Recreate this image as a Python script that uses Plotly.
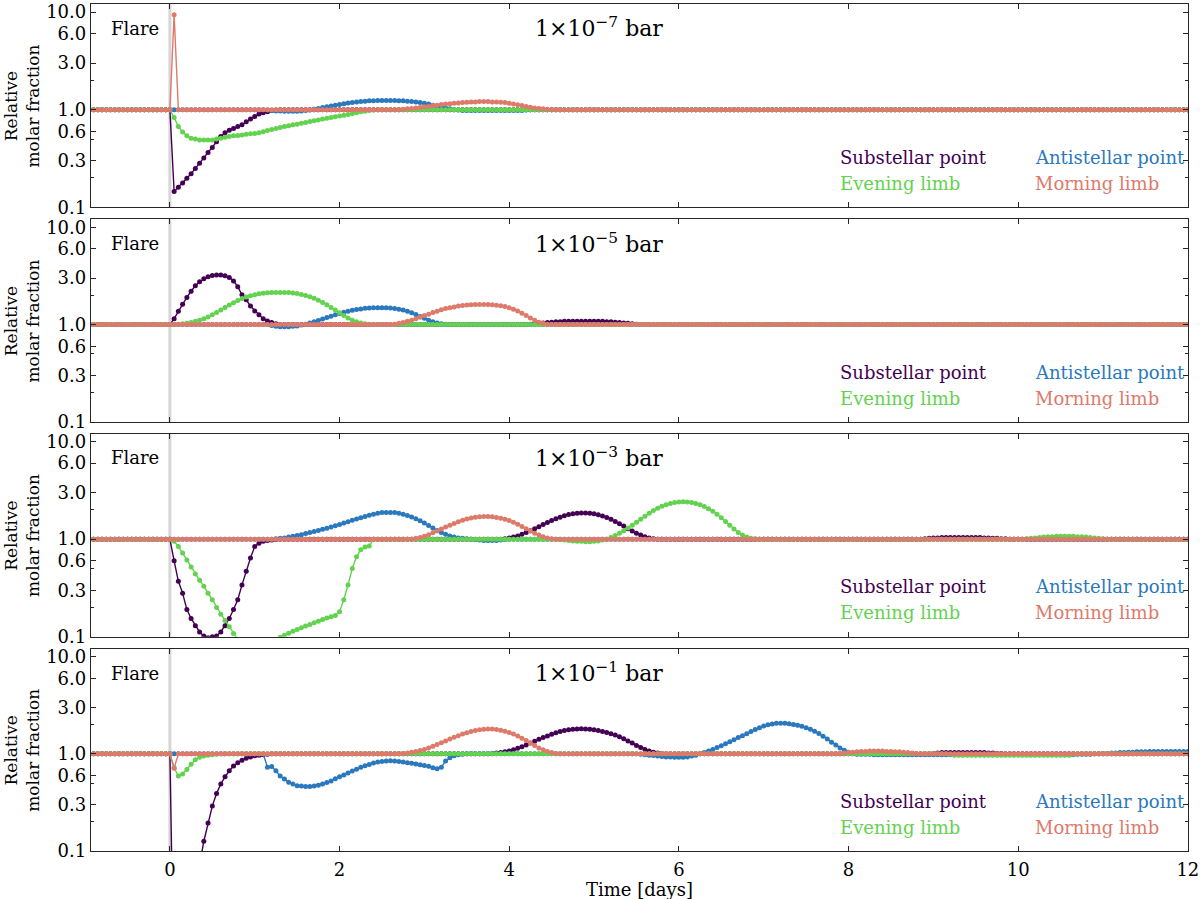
import numpy as np
import plotly.graph_objects as go
from plotly.subplots import make_subplots

# time grid of the model output, one point every 0.05 days
time = np.round(np.arange(-20, 241) * 0.05, 2)

pressures = ['1×10<sup>−7</sup> bar', '1×10<sup>−5</sup> bar',
             '1×10<sup>−3</sup> bar', '1×10<sup>−1</sup> bar']
series_names = ['Substellar point', 'Antistellar point', 'Evening limb', 'Morning limb']
series_colors = ['#440154', '#2a78bd', '#62d24f', '#dd7a6a']

# relative molar fraction, given as (start day, values every 0.05 days); 1.0 elsewhere
sub_7 = [(0.05, [0.145, 0.16, 0.177, 0.198, 0.22, 0.25, 0.283, 0.32, 0.364, 0.41, 0.468, 0.53,
                 0.58, 0.615, 0.64, 0.67, 0.70, 0.75, 0.80, 0.85, 0.90, 0.93, 0.95, 0.98, 0.99])]
anti_7 = [(1.15, [0.99, 0.98, 0.97, 0.97, 0.96, 0.96, 0.96, 0.96, 0.97, 0.98, 0.99, 1.01, 1.03, 1.05,
                  1.07, 1.09, 1.11, 1.13, 1.15, 1.17, 1.18, 1.2, 1.21, 1.22, 1.23, 1.235, 1.24, 1.24,
                  1.24, 1.24, 1.24, 1.235, 1.23, 1.22, 1.21, 1.2, 1.18, 1.16, 1.14, 1.11, 1.08, 1.06,
                  1.04, 1.02, 1.0, 0.99, 0.98, 0.98, 0.98, 0.98, 0.98, 0.98, 0.98, 0.98, 0.98, 0.98,
                  0.98, 0.98, 0.98, 0.98, 0.98, 0.99])]
eve_7 = [(0.05, [0.83, 0.67, 0.59, 0.54, 0.51, 0.50, 0.49, 0.49, 0.49, 0.49, 0.50, 0.51, 0.52, 0.53,
                 0.54, 0.545, 0.55, 0.56, 0.565, 0.57, 0.58, 0.595, 0.61, 0.625, 0.64, 0.655, 0.67,
                 0.685, 0.70, 0.71, 0.725, 0.74, 0.755, 0.77, 0.785, 0.80, 0.815, 0.83, 0.845, 0.86,
                 0.875, 0.89, 0.91, 0.93, 0.95, 0.965, 0.98, 0.99])]
morn_7 = [(0.05, [9.4]),
          (2.75, [1.01, 1.02, 1.03, 1.04, 1.05, 1.07, 1.08, 1.1, 1.11, 1.13, 1.14, 1.15, 1.16, 1.17,
                  1.18, 1.19, 1.2, 1.2, 1.21, 1.21, 1.21, 1.2, 1.2, 1.19, 1.18, 1.16, 1.14, 1.12, 1.1,
                  1.08, 1.06, 1.04, 1.03, 1.02, 1.01])]

sub_5 = [(0.05, [1.15, 1.37, 1.62, 1.9, 2.2, 2.5, 2.75, 2.95, 3.1, 3.2, 3.24, 3.24, 3.18, 3.05, 2.8,
                 2.45, 2.02, 1.8, 1.55, 1.38, 1.26, 1.15, 1.09, 1.05, 1.02]),
         (4.25, [1.01, 1.02, 1.03, 1.04, 1.05, 1.06, 1.07, 1.07, 1.08, 1.08, 1.08, 1.08, 1.08, 1.08,
                 1.08, 1.08, 1.08, 1.08, 1.07, 1.07, 1.06, 1.05, 1.04, 1.03, 1.02, 1.01])]
anti_5 = [(1.2, [0.98, 0.96, 0.95, 0.95, 0.95, 0.96, 0.97, 0.99, 1.01, 1.04, 1.07, 1.1, 1.14, 1.18,
                 1.22, 1.26, 1.3, 1.34, 1.37, 1.4, 1.43, 1.45, 1.47, 1.48, 1.49, 1.49, 1.49, 1.49,
                 1.48, 1.46, 1.44, 1.41, 1.37, 1.32, 1.27, 1.21, 1.16, 1.11, 1.07, 1.04, 1.02, 1.01])]
eve_5 = [(0.1, [1.01, 1.02, 1.03, 1.05, 1.08, 1.11, 1.15, 1.2, 1.26, 1.33, 1.41, 1.5, 1.59, 1.68,
                1.77, 1.85, 1.92, 1.98, 2.03, 2.07, 2.1, 2.12, 2.13, 2.14, 2.14, 2.14, 2.13, 2.11,
                2.08, 2.04, 1.99, 1.93, 1.86, 1.78, 1.69, 1.6, 1.5, 1.41, 1.32, 1.24, 1.17, 1.11,
                1.07, 1.04, 1.02, 1.01])]
morn_5 = [(2.65, [1.01, 1.03, 1.05, 1.08, 1.11, 1.15, 1.19, 1.24, 1.28, 1.33, 1.37, 1.42, 1.46, 1.49,
                  1.52, 1.55, 1.57, 1.59, 1.6, 1.61, 1.61, 1.61, 1.61, 1.6, 1.58, 1.56, 1.53, 1.49,
                  1.44, 1.38, 1.31, 1.24, 1.17, 1.11, 1.06, 1.03, 1.01])]

sub_3 = [(0.05, [0.60, 0.37, 0.28, 0.19, 0.154, 0.13, 0.112, 0.102, 0.098, 0.10, 0.102, 0.112, 0.13,
                 0.154, 0.19, 0.24, 0.34, 0.47, 0.64, 0.84, 0.91, 0.95, 0.97, 0.98, 0.99]),
         (3.95, [1.01, 1.03, 1.05, 1.08, 1.12, 1.17, 1.22, 1.28, 1.34, 1.41, 1.48, 1.55, 1.62, 1.68,
                 1.74, 1.79, 1.82, 1.84, 1.85, 1.85, 1.84, 1.82, 1.78, 1.73, 1.67, 1.6, 1.52, 1.44,
                 1.36, 1.28, 1.21, 1.15, 1.1, 1.06, 1.03, 1.01]),
         (8.9, [1.01, 1.02, 1.03, 1.03, 1.04, 1.04, 1.04, 1.04, 1.04, 1.04, 1.04, 1.04, 1.04, 1.04,
                1.03, 1.03, 1.02, 1.02, 1.01, 1.01])]
anti_3 = [(1.25, [1.01, 1.02, 1.03, 1.05, 1.07, 1.09, 1.11, 1.14, 1.17, 1.2, 1.23, 1.26, 1.29, 1.33,
                  1.37, 1.41, 1.46, 1.51, 1.56, 1.61, 1.66, 1.71, 1.76, 1.8, 1.84, 1.87, 1.88, 1.88,
                  1.87, 1.84, 1.8, 1.75, 1.69, 1.62, 1.54, 1.46, 1.38, 1.3, 1.23, 1.17, 1.12, 1.08,
                  1.05, 1.03, 1.02, 1.01, 1.0, 0.99, 0.98, 0.97, 0.97, 0.97, 0.97, 0.98, 0.99])]
eve_3 = [(0.05, [0.95, 0.84, 0.72, 0.61, 0.52, 0.44, 0.38, 0.33, 0.28, 0.24, 0.20, 0.17, 0.147,
                 0.127, 0.108, 0.092, 0.08, 0.07, 0.063, 0.058, 0.056, 0.058, 0.065, 0.076, 0.088,
                 0.099, 0.104, 0.109, 0.114, 0.119, 0.124, 0.129, 0.134, 0.139, 0.144, 0.15, 0.156,
                 0.16, 0.165, 0.18, 0.24, 0.34, 0.50, 0.66, 0.78, 0.83, 0.85]),
         (4.6, [0.99, 0.98, 0.97, 0.96, 0.95, 0.95, 0.94, 0.94, 0.95, 0.96, 0.98, 1.0, 1.04, 1.09,
                1.15, 1.22, 1.3, 1.39, 1.49, 1.6, 1.72, 1.84, 1.96, 2.07, 2.17, 2.25, 2.32, 2.37,
                2.4, 2.41, 2.4, 2.37, 2.32, 2.25, 2.16, 2.05, 1.93, 1.8, 1.66, 1.52, 1.39, 1.27,
                1.17, 1.1, 1.05, 1.02, 1.01]),
         (10.1, [1.01, 1.02, 1.03, 1.04, 1.05, 1.06, 1.06, 1.07, 1.07, 1.07, 1.07, 1.07, 1.06, 1.06,
                 1.05, 1.04, 1.03, 1.02, 1.01])]
morn_3 = [(2.9, [1.02, 1.04, 1.07, 1.11, 1.16, 1.21, 1.27, 1.33, 1.39, 1.45, 1.51, 1.56, 1.61, 1.65,
                 1.68, 1.7, 1.71, 1.71, 1.7, 1.67, 1.64, 1.6, 1.55, 1.49, 1.42, 1.35, 1.28, 1.21,
                 1.15, 1.1, 1.06, 1.03, 1.01])]

sub_1 = [(0.05, [0.003, 0.007, 0.012, 0.02, 0.03, 0.045, 0.072, 0.126, 0.194, 0.29, 0.39, 0.49,
                 0.58, 0.67, 0.75, 0.81, 0.86, 0.90, 0.93, 0.954, 0.97, 0.98, 0.99]),
         (3.8, [1.01, 1.02, 1.03, 1.05, 1.07, 1.1, 1.14, 1.18, 1.23, 1.29, 1.35, 1.41, 1.47, 1.53,
                1.59, 1.65, 1.7, 1.74, 1.77, 1.79, 1.8, 1.81, 1.8, 1.79, 1.77, 1.74, 1.7, 1.66,
                1.61, 1.56, 1.5, 1.43, 1.36, 1.29, 1.22, 1.16, 1.11, 1.07, 1.04, 1.02, 1.01]),
         (9.0, [1.01, 1.02, 1.03, 1.03, 1.03, 1.03, 1.03, 1.03, 1.03, 1.03, 1.03, 1.03, 1.03, 1.02,
                1.02, 1.01, 1.01])]
anti_1 = [(1.15, [0.73, 0.74, 0.67, 0.59, 0.55, 0.51, 0.49, 0.47, 0.466, 0.462, 0.462, 0.466, 0.476,
                  0.49, 0.507, 0.527, 0.553, 0.58, 0.607, 0.636, 0.667, 0.693, 0.726, 0.755, 0.779,
                  0.804, 0.823, 0.836, 0.842, 0.849, 0.842, 0.836, 0.823, 0.81, 0.80, 0.785, 0.773,
                  0.761, 0.744, 0.72, 0.704, 0.73, 0.842, 0.91, 0.954, 0.977, 0.99]),
          (5.55, [0.99, 0.98, 0.97, 0.96, 0.95, 0.94, 0.93, 0.93, 0.92, 0.92, 0.92, 0.93, 0.95, 0.97,
                  1.0, 1.03, 1.07, 1.11, 1.16, 1.21, 1.27, 1.33, 1.4, 1.47, 1.54, 1.61, 1.7, 1.78,
                  1.86, 1.93, 1.99, 2.03, 2.06, 2.07, 2.06, 2.04, 2.01, 1.97, 1.92, 1.86, 1.79, 1.71,
                  1.62, 1.52, 1.42, 1.32, 1.23, 1.15, 1.09, 1.04, 1.01]),
          (8.1, [0.99] * 4 + [0.98] * 48 + [0.99] * 4),
          (11.0, [1.01, 1.01, 1.02, 1.02, 1.03, 1.03, 1.04, 1.04, 1.05, 1.05, 1.05, 1.06, 1.06, 1.06,
                  1.06, 1.06, 1.06, 1.06, 1.06, 1.06, 1.06])]
eve_1 = [(0.05, [0.72, 0.59, 0.62, 0.69, 0.78, 0.87, 0.92, 0.95, 0.97, 0.98, 0.99]),
         (9.2, [0.99] + [0.97] * 28 + [0.99])]
morn_1 = [(0.05, [0.71]),
          (2.75, [1.01, 1.02, 1.04, 1.06, 1.08, 1.11, 1.15, 1.2, 1.25, 1.3, 1.36, 1.42, 1.48, 1.54,
                  1.6, 1.65, 1.7, 1.74, 1.77, 1.79, 1.8, 1.8, 1.78, 1.75, 1.71, 1.66, 1.6, 1.53, 1.45,
                  1.37, 1.29, 1.22, 1.15, 1.1, 1.06, 1.03, 1.01]),
          (7.9, [1.01, 1.02, 1.03, 1.04, 1.05, 1.06, 1.06, 1.07, 1.07, 1.07, 1.07, 1.06, 1.06, 1.05,
                 1.05, 1.04, 1.03, 1.02, 1.01])]

panels = [[sub_7, anti_7, eve_7, morn_7],
          [sub_5, anti_5, eve_5, morn_5],
          [sub_3, anti_3, eve_3, morn_3],
          [sub_1, anti_1, eve_1, morn_1]]

FONT = 'DejaVu Serif'
domains = [[0.760, 1.0], [0.5065, 0.7459], [0.2529, 0.4929], [0.0, 0.2388]]


def build_series(segments: list) -> np.ndarray:
    """Put the read values on the time grid, the rest stays at 1.0."""
    y = np.ones(len(time))
    for start, values in segments:
        i = int(round((start - time[0]) / 0.05))
        y[i:i + len(values)] = values
    return y


fig = make_subplots(rows=4, cols=1, shared_xaxes=True, vertical_spacing=0.013)

# draw order: substellar, antistellar, evening, morning (morning ends up on top)
for row, panel in enumerate(panels, start=1):
    for k in [0, 1, 2, 3]:
        fig.add_trace(go.Scatter(
            x=time,
            y=build_series(panel[k]),
            mode='lines+markers',
            name=series_names[k],
            line=dict(color=series_colors[k], width=1.4),
            marker=dict(color=series_colors[k], size=5),
            showlegend=False
        ), row=row, col=1)

    ax = '' if row == 1 else str(row)
    # flare marker
    fig.add_shape(type='line', x0=0, x1=0, y0=0, y1=1, xref='x' + ax, yref='y' + ax + ' domain',
                  line=dict(color='#d6d6d6', width=3), layer='below')

    fig.add_annotation(x=-0.11, y=0.88, xref='x' + ax, yref='y' + ax + ' domain', text='Flare',
                       showarrow=False, xanchor='right', yanchor='middle',
                       font=dict(family=FONT, size=18, color='black'))
    fig.add_annotation(x=5.06, y=0.885, xref='x' + ax, yref='y' + ax + ' domain', text=pressures[row - 1],
                       showarrow=False, xanchor='center', yanchor='middle',
                       font=dict(family=FONT, size=22, color='black'))
    label_pos = [(7.88, 0.245), (10.18, 0.245), (7.88, 0.118), (10.18, 0.118)]
    for k in [0, 1, 2, 3]:
        fig.add_annotation(x=label_pos[k][0], y=label_pos[k][1], xref='x' + ax, yref='y' + ax + ' domain',
                           text=series_names[k], showarrow=False, xanchor='left', yanchor='middle',
                           font=dict(family=FONT, size=18, color=series_colors[k]))
    fig.add_annotation(x=-0.063, y=(domains[row - 1][0] + domains[row - 1][1]) / 2, xref='paper', yref='paper',
                       text='Relative<br>molar fraction', showarrow=False, textangle=-90,
                       xanchor='center', yanchor='middle',
                       font=dict(family=FONT, size=17, color='black'))

    fig.update_yaxes(
        type='log',
        range=[-1, 1.082],
        domain=domains[row - 1],
        tickvals=[0.1, 0.3, 0.6, 1.0, 3.0, 6.0, 10.0],
        ticktext=['0.1', '0.3', '0.6', '1.0', '3.0', '6.0', '10.0'],
        ticks='inside',
        ticklen=5,
        minor=dict(ticks='inside', ticklen=3, tickvals=[0.2, 0.5, 2.0], tickcolor='#262626'),
        showgrid=False,
        zeroline=False,
        showline=True,
        linecolor='#262626',
        linewidth=1.3,
        mirror='ticks',
        tickcolor='#262626',
        tickfont=dict(family=FONT, size=18, color='black'),
        row=row, col=1
    )
    fig.update_xaxes(
        range=[-0.93, 12.002],
        tickvals=[0, 2, 4, 6, 8, 10, 12],
        ticks='inside',
        ticklen=5,
        ticklabelstandoff=2,
        ticklabeloverflow='allow',
        showgrid=False,
        zeroline=False,
        showline=True,
        linecolor='#262626',
        linewidth=1.3,
        mirror='ticks',
        tickcolor='#262626',
        showticklabels=(row == 4),
        tickfont=dict(family=FONT, size=18, color='black'),
        row=row, col=1
    )

fig.add_annotation(x=0.5, y=-0.046, xref='paper', yref='paper', text='Time [days]', showarrow=False,
                   xanchor='center', yanchor='middle', font=dict(family=FONT, size=18, color='black'))

fig.update_layout(
    width=1200,
    height=899,
    margin=dict(l=91, r=10, t=1, b=48),
    plot_bgcolor='white',
    paper_bgcolor='white',
    showlegend=False,
    font=dict(family=FONT, size=18, color='black')
)

fig.write_html('out.html', config={'displayModeBar': False},
               post_script="document.body.style.margin = '0px';")
